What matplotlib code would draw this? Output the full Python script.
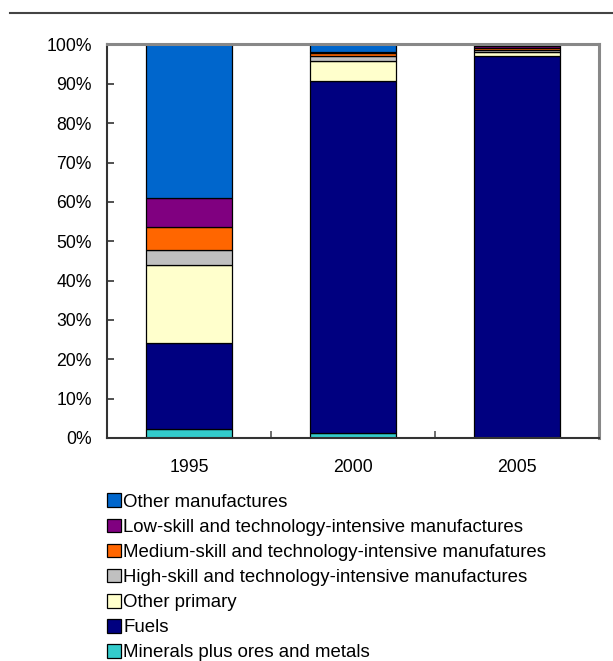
import matplotlib.pyplot as plt
from matplotlib.lines import Line2D
from matplotlib.ticker import PercentFormatter

plt.rcParams['font.family'] = ['Liberation Sans', 'DejaVu Sans']

years = ['1995', '2000', '2005']
categories = [
    'Minerals plus ores and metals',
    'Fuels',
    'Other primary',
    'High-skill and technology-intensive manufactures',
    'Medium-skill and technology-intensive manufatures',
    'Low-skill and technology-intensive manufactures',
    'Other manufactures',
]
colors = ['#33CCCC', '#000080', '#FFFFCC', '#C0C0C0', '#FF6600', '#800080', '#0066CC']

minerals = [2.4, 1.3, 0.1]
fuels = [21.8, 89.3, 96.9]
other_primary = [19.8, 5.3, 1.0]
high_skill = [3.8, 1.3, 0.7]
medium_skill = [5.9, 0.7, 0.5]
low_skill = [7.3, 0.3, 0.4]
other_manuf = [39.0, 1.8, 0.4]
series = [minerals, fuels, other_primary, high_skill, medium_skill, low_skill, other_manuf]

fig = plt.figure(figsize=(6.13, 6.61), dpi=100)
ax = fig.add_axes([0.1746, 0.3374, 0.8024, 0.5953])

x = range(len(years))
bottom = [0.0] * len(years)
handles = []
for vals, col, lab in zip(series, colors, categories):
    b = ax.bar(x, vals, bottom=bottom, width=0.52, color=col,
               edgecolor='black', linewidth=0.9, label=lab)
    handles.append(b)
    bottom = [bo + v for bo, v in zip(bottom, vals)]

ax.set_xlim(-0.5, 2.5)
ax.set_ylim(0, 100)
ax.set_yticks(range(0, 101, 10))
ax.yaxis.set_major_formatter(PercentFormatter(decimals=0))
ax.set_xticks(list(x))
ax.set_xticklabels(years)
ax.set_xticks([0.5, 1.5], minor=True)
ax.tick_params(axis='x', which='major', length=0, pad=15, labelsize=12.7)
ax.tick_params(axis='x', which='minor', length=5, direction='in', width=1.2, color='#555555')
ax.tick_params(axis='y', length=5, direction='in', width=1.2, color='#333333',
               pad=11, labelsize=12.7)

for s in ['left', 'bottom']:
    ax.spines[s].set_color('#333333')
    ax.spines[s].set_linewidth(1.5)
for s in ['top', 'right']:
    ax.spines[s].set_color('#888888')
    ax.spines[s].set_linewidth(2.2)

leg = fig.legend(handles[::-1], categories[::-1], loc='upper left',
                 bbox_to_anchor=(0.175, 0.2535), frameon=False, fontsize=13.4,
                 handlelength=0.75, handleheight=0.75, handletextpad=0.12,
                 labelspacing=0.42, borderaxespad=0, borderpad=0)

fig.add_artist(Line2D([0.016, 1.0], [0.98, 0.98], color='#444444', linewidth=1.5))

fig.savefig('out.png', dpi=100)
